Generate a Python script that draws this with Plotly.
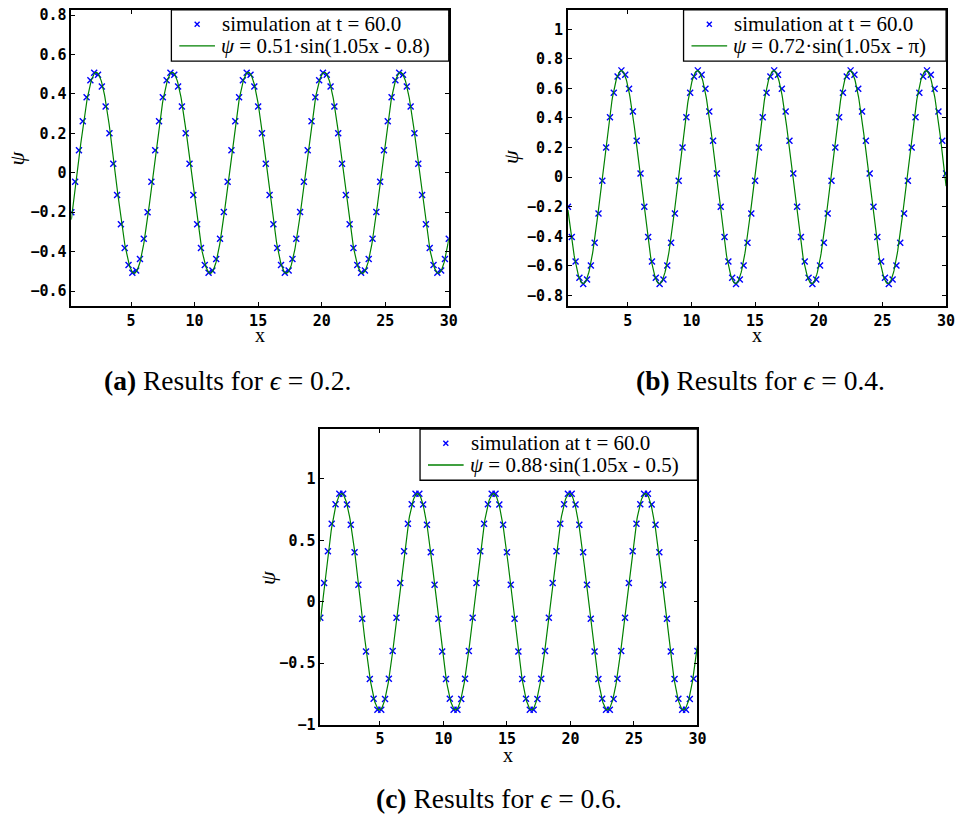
import numpy as np
import plotly.graph_objects as go

# ---------------------------------------------------------------- data
# grid positions of the simulated field (x = 0.3 ... 30.0)
X_GRID = [
    0.3, 0.6, 0.9, 1.2, 1.5, 1.8, 2.1, 2.4, 2.7, 3.0,
    3.3, 3.6, 3.9, 4.2, 4.5, 4.8, 5.1, 5.4, 5.7, 6.0,
    6.3, 6.6, 6.9, 7.2, 7.5, 7.8, 8.1, 8.4, 8.7, 9.0,
    9.3, 9.6, 9.9, 10.2, 10.5, 10.8, 11.1, 11.4, 11.7, 12.0,
    12.3, 12.6, 12.9, 13.2, 13.5, 13.8, 14.1, 14.4, 14.7, 15.0,
    15.3, 15.6, 15.9, 16.2, 16.5, 16.8, 17.1, 17.4, 17.7, 18.0,
    18.3, 18.6, 18.9, 19.2, 19.5, 19.8, 20.1, 20.4, 20.7, 21.0,
    21.3, 21.6, 21.9, 22.2, 22.5, 22.8, 23.1, 23.4, 23.7, 24.0,
    24.3, 24.6, 24.9, 25.2, 25.5, 25.8, 26.1, 26.4, 26.7, 27.0,
    27.3, 27.6, 27.9, 28.2, 28.5, 28.8, 29.1, 29.4, 29.7, 30.0,
]

# simulated psi at t = 60.0, epsilon = 0.2
SIM_A = [
    -0.200, -0.046, 0.114, 0.262, 0.383, 0.469, 0.508, 0.497, 0.438, 0.336,
    0.201, 0.046, -0.113, -0.261, -0.382, -0.468, -0.507, -0.496, -0.437, -0.335,
    -0.200, -0.046, 0.114, 0.262, 0.383, 0.469, 0.508, 0.497, 0.438, 0.336,
    0.201, 0.046, -0.113, -0.261, -0.382, -0.468, -0.507, -0.496, -0.437, -0.335,
    -0.199, -0.046, 0.114, 0.262, 0.383, 0.469, 0.508, 0.497, 0.438, 0.336,
    0.201, 0.046, -0.113, -0.261, -0.382, -0.468, -0.507, -0.496, -0.437, -0.335,
    -0.199, -0.046, 0.114, 0.262, 0.383, 0.469, 0.508, 0.497, 0.438, 0.336,
    0.201, 0.046, -0.113, -0.261, -0.382, -0.468, -0.507, -0.496, -0.437, -0.335,
    -0.199, -0.046, 0.114, 0.262, 0.383, 0.469, 0.508, 0.497, 0.438, 0.336,
    0.201, 0.046, -0.113, -0.261, -0.382, -0.468, -0.507, -0.496, -0.437, -0.335,
]

# simulated psi at t = 60.0, epsilon = 0.4
SIM_B = [
    -0.200, -0.405, -0.570, -0.680, -0.722, -0.692, -0.597, -0.444, -0.246, -0.025,
    0.201, 0.405, 0.570, 0.680, 0.722, 0.692, 0.597, 0.444, 0.246, 0.025,
    -0.200, -0.405, -0.570, -0.680, -0.722, -0.692, -0.597, -0.444, -0.246, -0.025,
    0.201, 0.405, 0.570, 0.680, 0.722, 0.692, 0.597, 0.444, 0.246, 0.025,
    -0.200, -0.405, -0.570, -0.680, -0.722, -0.692, -0.597, -0.444, -0.246, -0.025,
    0.201, 0.405, 0.570, 0.680, 0.722, 0.692, 0.597, 0.444, 0.246, 0.025,
    -0.200, -0.405, -0.570, -0.680, -0.722, -0.692, -0.597, -0.444, -0.246, -0.025,
    0.201, 0.405, 0.570, 0.680, 0.722, 0.692, 0.597, 0.444, 0.246, 0.025,
    -0.200, -0.405, -0.570, -0.680, -0.722, -0.692, -0.597, -0.444, -0.246, -0.025,
    0.201, 0.405, 0.570, 0.680, 0.722, 0.692, 0.597, 0.444, 0.246, 0.025,
]

# simulated psi at t = 60.0, epsilon = 0.6
SIM_C = [
    -0.131, 0.152, 0.410, 0.634, 0.792, 0.879, 0.879, 0.790, 0.627, 0.402,
    0.138, -0.139, -0.404, -0.629, -0.790, -0.879, -0.879, -0.791, -0.627, -0.400,
    -0.131, 0.152, 0.410, 0.634, 0.792, 0.879, 0.879, 0.790, 0.627, 0.402,
    0.138, -0.139, -0.404, -0.629, -0.790, -0.879, -0.879, -0.791, -0.627, -0.400,
    -0.131, 0.152, 0.410, 0.634, 0.792, 0.879, 0.879, 0.790, 0.627, 0.402,
    0.138, -0.139, -0.404, -0.629, -0.790, -0.879, -0.879, -0.791, -0.627, -0.400,
    -0.131, 0.152, 0.410, 0.634, 0.792, 0.879, 0.879, 0.790, 0.627, 0.402,
    0.138, -0.139, -0.404, -0.629, -0.790, -0.879, -0.879, -0.791, -0.627, -0.400,
    -0.131, 0.152, 0.410, 0.634, 0.792, 0.879, 0.879, 0.790, 0.627, 0.402,
    0.138, -0.139, -0.404, -0.629, -0.790, -0.879, -0.879, -0.791, -0.627, -0.400,
]

# fitted curves psi = A*sin(k*x - phase)
FIT_AMP = [0.51, 0.72, 0.88]
FIT_WAVENUMBER = 1.05
FIT_PHASE = [0.8, np.pi, 0.5]

SIM_LABEL = "simulation at t = 60.0"
FIT_LABELS = [
    "<i>ψ</i> = 0.51·sin(1.05x - 0.8)",
    "<i>ψ</i> = 0.72·sin(1.05x - π)",
    "<i>ψ</i> = 0.88·sin(1.05x - 0.5)",
]
CAPTIONS = [
    "<b>(a)</b> Results for <i>ϵ</i> = 0.2.",
    "<b>(b)</b> Results for <i>ϵ</i> = 0.4.",
    "<b>(c)</b> Results for <i>ϵ</i> = 0.6.",
]

X_TICKS = [5, 10, 15, 20, 25, 30]
X_TICK_TEXT = ["5", "10", "15", "20", "25", "30"]
Y_TICKS_A = [-0.6, -0.4, -0.2, 0, 0.2, 0.4, 0.6, 0.8]
Y_TICK_TEXT_A = ["−0.6", "−0.4", "−0.2", "0", "0.2", "0.4", "0.6", "0.8"]
Y_TICKS_B = [-0.8, -0.6, -0.4, -0.2, 0, 0.2, 0.4, 0.6, 0.8, 1]
Y_TICK_TEXT_B = ["−0.8", "−0.6", "−0.4", "−0.2", "0", "0.2", "0.4", "0.6", "0.8", "1"]
Y_TICKS_C = [-1, -0.5, 0, 0.5, 1]
Y_TICK_TEXT_C = ["−1", "−0.5", "0", "0.5", "1"]

# ---------------------------------------------------------------- layout
W, H = 964, 826


def px_x(v):
    return v / W


def px_y(v):
    return 1 - v / H


# (left, right, top, bottom) of each axes box in pixels, y-range, ticks,
# legend box width, label / caption anchor points
panels = [
    dict(box=(72, 453, 7, 307.7), yr=[-0.677, 0.8265], yt=Y_TICKS_A, ytt=Y_TICK_TEXT_A,
         sim=SIM_A, legw=280, xlab=(262, 337), ylab=(17, 158), cap=(230, 383)),
    dict(box=(573.3, 955, 7, 307.7), yr=[-0.873, 1.131], yt=Y_TICKS_B, ytt=Y_TICK_TEXT_B,
         sim=SIM_B, legw=265, xlab=(764, 337), ylab=(516, 156), cap=(768, 383)),
    dict(box=(323.3, 704, 432.3, 732.3), yr=[-1.0, 1.405], yt=Y_TICKS_C, ytt=Y_TICK_TEXT_C,
         sim=SIM_C, legw=280, xlab=(513, 763), ylab=(270, 583), cap=(504, 807)),
]

SERIF = "Liberation Serif"
MONO = "DejaVu Sans Mono"
BLUE = "#0000ff"
GREEN = "#008000"
LEG_H = 52

fig = go.Figure()
layout = dict(
    width=W, height=H,
    margin=dict(l=0, r=0, t=0, b=0),
    paper_bgcolor="white",
    plot_bgcolor="white",
    showlegend=False,
    annotations=[],
    shapes=[],
)

x_fine = np.linspace(X_GRID[0], X_GRID[-1], 800)

for i, p in enumerate(panels):
    n = "" if i == 0 else str(i + 1)
    xa, ya = "x" + n, "y" + n
    left, right, top, bottom = p["box"]

    fig.add_trace(go.Scatter(
        x=X_GRID, y=p["sim"], mode="markers", name=SIM_LABEL,
        xaxis=xa, yaxis=ya,
        marker=dict(symbol="x-thin", size=6, color=BLUE,
                    line=dict(color=BLUE, width=1.4)),
    ))
    fig.add_trace(go.Scatter(
        x=x_fine,
        y=FIT_AMP[i] * np.sin(FIT_WAVENUMBER * x_fine - FIT_PHASE[i]),
        mode="lines", name=FIT_LABELS[i],
        xaxis=xa, yaxis=ya,
        line=dict(color=GREEN, width=1.2),
    ))

    axis_common = dict(
        showline=True, linecolor="black", linewidth=1.6, mirror="ticks",
        ticks="inside", ticklen=4, tickwidth=1, tickcolor="black",
        showgrid=False, zeroline=False,
        tickfont=dict(family=MONO, size=15, color="black", weight="bold"),
    )
    layout["xaxis" + n] = dict(
        axis_common, domain=[px_x(left), px_x(right)], range=[X_GRID[0], 30],
        anchor=ya, tickvals=X_TICKS, ticktext=X_TICK_TEXT,
    )
    layout["yaxis" + n] = dict(
        axis_common, domain=[px_y(bottom), px_y(top)], range=p["yr"],
        anchor=xa, tickvals=p["yt"], ticktext=p["ytt"],
    )

    # legend box in the upper-right corner of the axes
    lx0, lx1 = right - p["legw"], right
    ly0, ly1 = top, top + LEG_H
    row1, row2 = top + 14.5, top + 36.5
    layout["shapes"] += [
        dict(type="rect", xref="paper", yref="paper",
             x0=px_x(lx0), x1=px_x(lx1), y0=px_y(ly1), y1=px_y(ly0),
             fillcolor="white", line=dict(color="black", width=1.3)),
        # simulation sample symbol
        dict(type="path", xref="paper", yref="paper",
             path="M {0},{1} L {2},{3} M {0},{3} L {2},{1}".format(
                 px_x(lx0 + 23.5), px_y(row1 - 2.5), px_x(lx0 + 28.5), px_y(row1 + 2.5)),
             line=dict(color=BLUE, width=1.4)),
        # fit sample line
        dict(type="line", xref="paper", yref="paper",
             x0=px_x(lx0 + 8), x1=px_x(lx0 + 44), y0=px_y(row2), y1=px_y(row2),
             line=dict(color=GREEN, width=1.3)),
    ]
    layout["annotations"] += [
        dict(text=SIM_LABEL, x=px_x(lx0 + 49), y=px_y(row1),
             xref="paper", yref="paper", showarrow=False,
             xanchor="left", yanchor="middle",
             font=dict(family=SERIF, size=21, color="black")),
        dict(text=FIT_LABELS[i], x=px_x(lx0 + 48), y=px_y(row2),
             xref="paper", yref="paper", showarrow=False,
             xanchor="left", yanchor="middle",
             font=dict(family=SERIF, size=21, color="black")),
        dict(text="x", x=px_x(p["xlab"][0]), y=px_y(p["xlab"][1]),
             xref="paper", yref="paper", showarrow=False,
             xanchor="center", yanchor="middle",
             font=dict(family=SERIF, size=20, color="black")),
        dict(text="<i>ψ</i>", x=px_x(p["ylab"][0]), y=px_y(p["ylab"][1]),
             xref="paper", yref="paper", showarrow=False, textangle=-90,
             xanchor="center", yanchor="middle",
             font=dict(family=SERIF, size=22, color="black")),
        dict(text=CAPTIONS[i], x=px_x(p["cap"][0]), y=px_y(p["cap"][1]),
             xref="paper", yref="paper", showarrow=False,
             xanchor="center", yanchor="middle",
             font=dict(family=SERIF, size=27.5, color="black")),
    ]

fig.update_layout(**layout)
fig.write_html("out.html")
